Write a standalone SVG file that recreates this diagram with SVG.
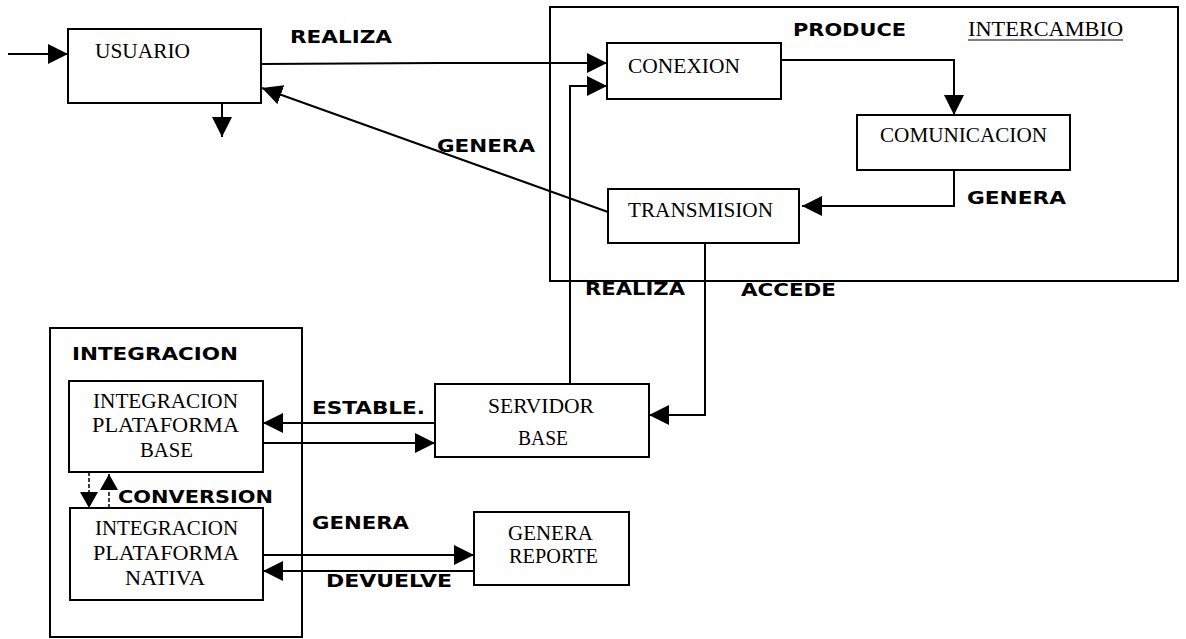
<svg xmlns="http://www.w3.org/2000/svg" width="1186" height="639" viewBox="0 0 1186 639">
<defs>
<marker id="ah" markerUnits="userSpaceOnUse" markerWidth="21" markerHeight="20" refX="20" refY="10" orient="auto" viewBox="0 0 21 20">
<path d="M0,0 L20,10 L0,20 Z" fill="#000"/>
</marker>
<marker id="ahs" markerUnits="userSpaceOnUse" markerWidth="17" markerHeight="18" refX="16" refY="9" orient="auto" viewBox="0 0 17 18">
<path d="M0,0 L16,9 L0,18 Z" fill="#000"/>
</marker>
</defs>
<style>
.box{fill:#fff;stroke:#000;stroke-width:2}
.frame{fill:none;stroke:#000;stroke-width:2}
.ln{fill:none;stroke:#000;stroke-width:2}
.ar{fill:none;stroke:#000;stroke-width:2;marker-end:url(#ah)}
.da{fill:none;stroke:#000;stroke-width:1.5;stroke-dasharray:4 2;marker-end:url(#ahs)}
.t{font-family:"Liberation Serif","Times New Roman",serif;font-size:20px;fill:#000}
.lb{font-family:"DejaVu Sans","Liberation Sans",Arial,sans-serif;font-weight:bold;font-size:17px;fill:#000}
</style>
<rect width="1186" height="639" fill="#fff"/>
<g id="intercambio">
<rect class="frame" x="550" y="7" width="628" height="274"/>
<text class="t" x="968" y="36" textLength="155" lengthAdjust="spacingAndGlyphs">INTERCAMBIO</text>
<line x1="968" y1="40" x2="1123" y2="40" stroke="#000" stroke-width="1.2"/>
</g>
<g id="integracion">
<rect class="frame" x="50" y="328" width="252" height="309"/>
<text class="lb" x="72" y="360" textLength="166" lengthAdjust="spacingAndGlyphs">INTEGRACION</text>
</g>
<g id="connectors">
<path class="ar" d="M8,54 H68"/>
<path class="ar" d="M222,103 V137"/>
<path class="ar" d="M261,64 L440,63 H607"/>
<path class="ar" d="M570,388 V86 H607"/>
<path class="ar" d="M781,60 H954 V115"/>
<path class="ar" d="M954,170 V206 H802"/>
<path class="ar" d="M608,212 L262,88"/>
<path class="ar" d="M705,243 V415 H649"/>
<path class="ar" d="M435,423 H263"/>
<path class="ar" d="M263,443 H435"/>
<path class="da" d="M89,472 V508"/>
<path class="da" d="M109,508 V474"/>
<path class="ar" d="M263,555 H474"/>
<path class="ar" d="M474,571 H263"/>
</g>
<g id="labels">
<text class="lb" x="290" y="43" textLength="102" lengthAdjust="spacingAndGlyphs">REALIZA</text>
<text class="lb" x="793" y="36" textLength="113" lengthAdjust="spacingAndGlyphs">PRODUCE</text>
<text class="lb" x="437" y="152" textLength="98" lengthAdjust="spacingAndGlyphs">GENERA</text>
<text class="lb" x="967" y="204" textLength="99" lengthAdjust="spacingAndGlyphs">GENERA</text>
<text class="lb" x="585" y="295" textLength="100" lengthAdjust="spacingAndGlyphs">REALIZA</text>
<text class="lb" x="741" y="296" textLength="95" lengthAdjust="spacingAndGlyphs">ACCEDE</text>
<text class="lb" x="312" y="414" textLength="113" lengthAdjust="spacingAndGlyphs">ESTABLE.</text>
<text class="lb" x="118" y="503" textLength="155" lengthAdjust="spacingAndGlyphs">CONVERSION</text>
<text class="lb" x="312" y="529" textLength="97" lengthAdjust="spacingAndGlyphs">GENERA</text>
<text class="lb" x="326" y="587" textLength="126" lengthAdjust="spacingAndGlyphs">DEVUELVE</text>
</g>
<g id="usuario">
<rect class="box" x="68" y="29" width="193" height="74"/>
<text class="t" x="95" y="58" textLength="95" lengthAdjust="spacingAndGlyphs">USUARIO</text>
</g>
<g id="conexion">
<rect class="box" x="607" y="43" width="174" height="56"/>
<text class="t" x="628" y="73" textLength="112" lengthAdjust="spacingAndGlyphs">CONEXION</text>
</g>
<g id="comunicacion">
<rect class="box" x="857" y="115" width="213" height="55"/>
<text class="t" x="880" y="142" textLength="167" lengthAdjust="spacingAndGlyphs">COMUNICACION</text>
</g>
<g id="transmision">
<rect class="box" x="608" y="189" width="191" height="54"/>
<text class="t" x="628" y="217" textLength="145" lengthAdjust="spacingAndGlyphs">TRANSMISION</text>
</g>
<g id="servidor">
<rect class="box" x="435" y="384" width="214" height="73"/>
<text class="t" x="488" y="413" textLength="106" lengthAdjust="spacingAndGlyphs">SERVIDOR</text>
<text class="t" x="518" y="445" textLength="50" lengthAdjust="spacingAndGlyphs">BASE</text>
</g>
<g id="ipb">
<rect class="box" x="69" y="381" width="194" height="91"/>
<text class="t" x="93" y="408" textLength="145" lengthAdjust="spacingAndGlyphs">INTEGRACION</text>
<text class="t" x="92" y="432" textLength="147" lengthAdjust="spacingAndGlyphs">PLATAFORMA</text>
<text class="t" x="140" y="457" textLength="53" lengthAdjust="spacingAndGlyphs">BASE</text>
</g>
<g id="ipn">
<rect class="box" x="70" y="508" width="193" height="92"/>
<text class="t" x="95" y="535" textLength="143" lengthAdjust="spacingAndGlyphs">INTEGRACION</text>
<text class="t" x="93" y="560" textLength="146" lengthAdjust="spacingAndGlyphs">PLATAFORMA</text>
<text class="t" x="125" y="585" textLength="80" lengthAdjust="spacingAndGlyphs">NATIVA</text>
</g>
<g id="reporte">
<rect class="box" x="474" y="512" width="155" height="73"/>
<text class="t" x="508" y="540" textLength="85" lengthAdjust="spacingAndGlyphs">GENERA</text>
<text class="t" x="509" y="563" textLength="89" lengthAdjust="spacingAndGlyphs">REPORTE</text>
</g>
</svg>
